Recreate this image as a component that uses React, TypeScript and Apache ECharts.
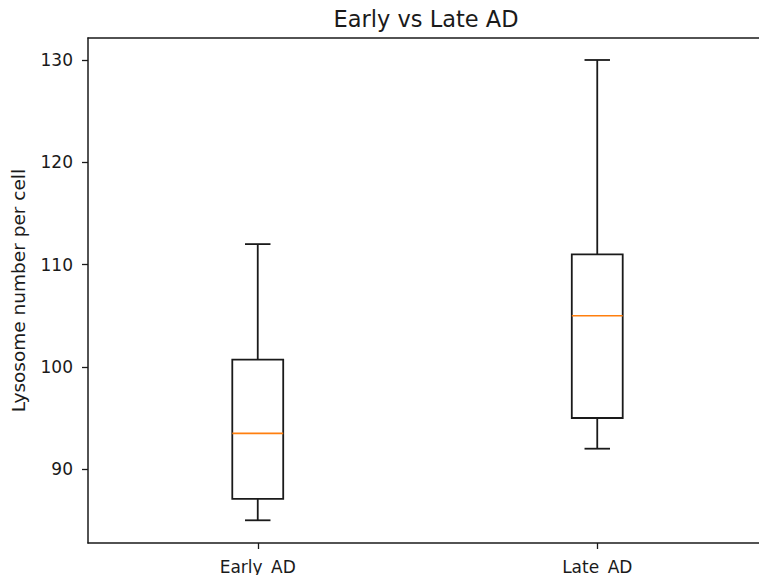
import React, { useEffect, useRef } from "react";
import * as echarts from "echarts";

const categories = ["Early_AD", "Late_AD"];
const whiskerLow = [85, 92];
const q1 = [87.1, 95];
const median = [93.5, 105];
const q3 = [100.7, 111];
const whiskerHigh = [112, 130];
const yTicks = [90, 100, 110, 120, 130];

const FONT = "DejaVu Sans";
const INK = "#1a1a1a";

export default function App() {
  const ref = useRef<HTMLDivElement>(null);
  useEffect(() => {
    if (!ref.current) return;
    const chart = echarts.init(ref.current, null, { renderer: "svg" });
    const data = categories.map((_, i) => [i, whiskerLow[i], q1[i], median[i], q3[i], whiskerHigh[i]]);
    const spine = { show: true, lineStyle: { color: INK, width: 1.5 } };
    chart.setOption({
      animation: false,
      backgroundColor: "#ffffff",
      title: {
        text: "Early vs Late AD",
        left: 421,
        top: 2,
        textAlign: "center",
        textStyle: { fontFamily: FONT, fontSize: 22.5, fontWeight: "normal", color: INK },
      },
      grid: {
        left: 88,
        right: 1,
        top: 38,
        bottom: 31,
        show: false,
      },
      xAxis: [
        {
          type: "category",
          data: categories,
          boundaryGap: true,
          position: "bottom",
          axisLine: spine,
          axisTick: { show: true, alignWithLabel: true, length: 6, lineStyle: { color: INK, width: 1.3 } },
          axisLabel: { fontFamily: FONT, fontSize: 17, color: INK, margin: 15 },
          splitLine: { show: false },
        },
        {
          type: "category",
          data: categories,
          boundaryGap: true,
          position: "top",
          axisLine: spine,
          axisTick: { show: false },
          axisLabel: { show: false },
          splitLine: { show: false },
        },
      ],
      yAxis: {
        type: "value",
        min: 82.78,
        max: 132.15,
        axisLine: spine,
        axisTick: { show: true, length: 6, customValues: yTicks, lineStyle: { color: INK, width: 1.3 } },
        axisLabel: { fontFamily: FONT, fontSize: 17, color: INK, margin: 15, customValues: yTicks },
        splitLine: { show: false },
        name: "Lysosome number per cell",
        nameLocation: "middle",
        nameGap: 60,
        nameTextStyle: { fontFamily: FONT, fontSize: 18.5, color: INK },
      },
      series: [
        {
          type: "custom",
          data,
          xAxisIndex: 0,
          encode: { x: 0, y: [1, 2, 3, 4, 5] },
          renderItem: (params: any, api: any) => {
            const idx = api.value(0);
            const pLow = api.coord([idx, api.value(1)]);
            const pQ1 = api.coord([idx, api.value(2)]);
            const pMed = api.coord([idx, api.value(3)]);
            const pQ3 = api.coord([idx, api.value(4)]);
            const pHigh = api.coord([idx, api.value(5)]);
            const band = api.size([1, 0])[0];
            const bw = band * 0.15;
            const cw = bw / 2;
            const x = pLow[0];
            const stroke = { stroke: INK, lineWidth: 1.8, fill: null };
            return {
              type: "group",
              children: [
                { type: "line", shape: { x1: x, y1: pLow[1], x2: x, y2: pQ1[1] }, style: stroke },
                { type: "line", shape: { x1: x, y1: pQ3[1], x2: x, y2: pHigh[1] }, style: stroke },
                { type: "line", shape: { x1: x - cw / 2, y1: pLow[1], x2: x + cw / 2, y2: pLow[1] }, style: stroke },
                { type: "line", shape: { x1: x - cw / 2, y1: pHigh[1], x2: x + cw / 2, y2: pHigh[1] }, style: stroke },
                {
                  type: "rect",
                  shape: { x: x - bw / 2, y: pQ3[1], width: bw, height: pQ1[1] - pQ3[1] },
                  style: { stroke: INK, lineWidth: 1.8, fill: "none" },
                },
                {
                  type: "line",
                  shape: { x1: x - bw / 2, y1: pMed[1], x2: x + bw / 2, y2: pMed[1] },
                  style: { stroke: "#ff7f0e", lineWidth: 1.6 },
                },
              ],
            };
          },
        },
      ],
    });
    return () => chart.dispose();
  }, []);
  return (
    <div style={{ position: "absolute", left: 0, top: 0, width: 759, height: 575, overflow: "hidden" }}>
      <div ref={ref} style={{ position: "absolute", left: 0, top: 0, width: 768, height: 575 }} />
    </div>
  );
}
